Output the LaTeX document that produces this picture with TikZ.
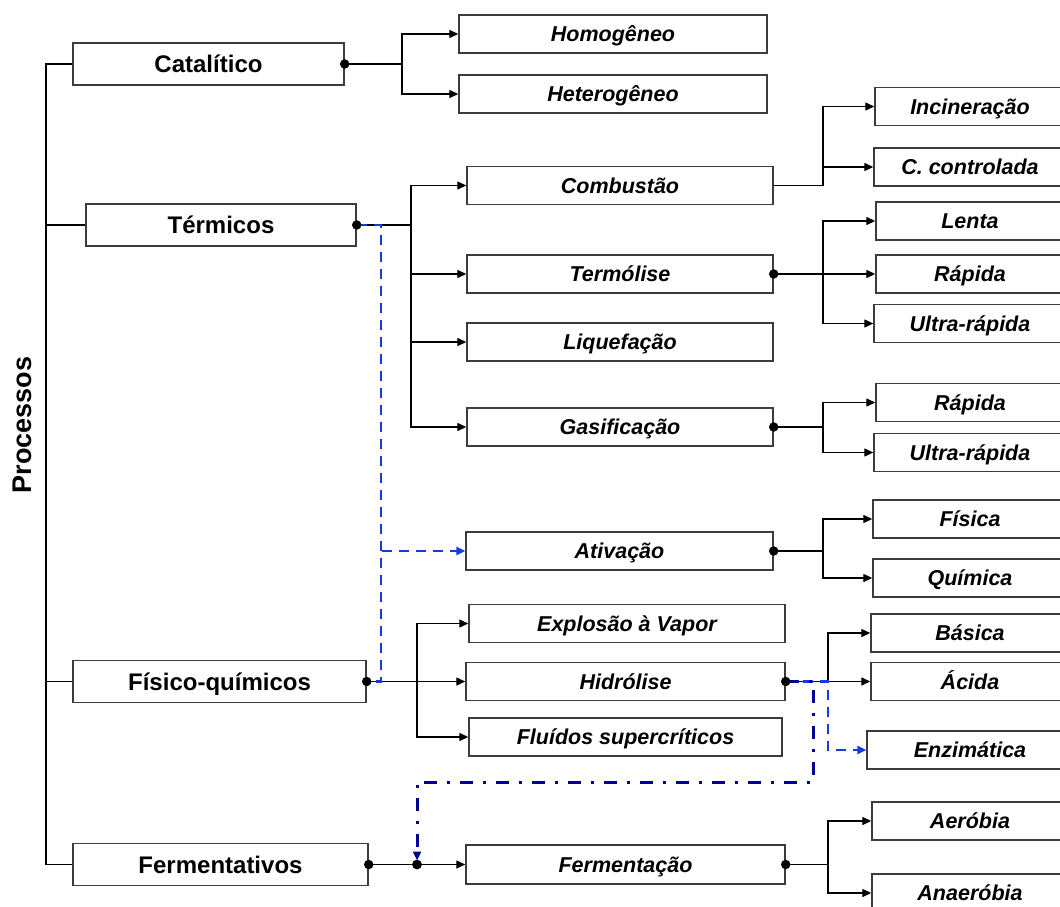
\documentclass[tikz,border=0pt]{standalone}
\usepackage{fontspec}
\setmainfont{Liberation Sans}
\usetikzlibrary{arrows.meta}
\definecolor{boxgray}{RGB}{60,60,60}
\definecolor{dashblue}{RGB}{20,60,215}
\definecolor{navyblue}{RGB}{0,0,150}
\begin{document}
\begin{tikzpicture}[x=1pt,y=-1pt,
  box/.style={draw=boxgray, line width=1.4pt, minimum height=38pt, inner sep=0pt,
    text height=15.4pt, text depth=0pt,
    font=\fontsize{21.5}{24}\selectfont\bfseries\itshape},
  catbox/.style={box, minimum height=42pt, text height=17.2pt, text depth=0pt, font=\fontsize{24}{28}\selectfont\bfseries},
  link/.style={draw=black, line width=1.3pt},
  tip/.style={-{Triangle[length=9pt,width=8pt]}},
  arr/.style={link, tip},
  dot/.style={circle, fill=black, inner sep=0pt, minimum size=9.5pt},
  bluedash/.style={draw=dashblue, line width=2.8pt, dash pattern=on 10pt off 7pt},
  navydash/.style={draw=navyblue, line width=3pt, dash pattern=on 13pt off 10pt on 3pt off 10pt}]
\useasboundingbox (0,0) rectangle (1060,907);
\clip (0,0) rectangle (1060,907);

% title
\node[font=\fontsize{27}{30}\selectfont\bfseries, rotate=90] (proc) at (22,425) {Processos};

% first level
\node[catbox, minimum width=271pt] (cat) at (208.5,64) {Catalítico};
\node[catbox, minimum width=270pt] (ter) at (221,225) {Térmicos};
\node[catbox, minimum width=293pt] (fq) at (219.5,681.5) {Físico-químicos};
\node[catbox, minimum width=295pt] (fer) at (220.5,864.5) {Fermentativos};

% second level
\node[box, minimum width=308pt] (hom) at (613,34) {Homogêneo};
\node[box, minimum width=308pt] (het) at (613,94) {Heterogêneo};
\node[box, minimum width=306pt] (comb) at (620,185.5) {Combustão};
\node[box, minimum width=306pt] (term) at (620,274) {Termólise};
\node[box, minimum width=306pt] (liq) at (620,342) {Liquefação};
\node[box, minimum width=306pt] (gas) at (620,427) {Gasificação};
\node[box, minimum width=307pt] (ativ) at (619.5,551) {Ativação};
\node[box, minimum width=316pt] (expl) at (627,623.5) {Explosão à Vapor};
\node[box, minimum width=319pt] (hid) at (625.5,681.5) {Hidrólise};
\node[box, minimum width=313pt] (flu) at (625.5,737) {Fluídos supercríticos};
\node[box, minimum width=319pt, minimum height=39pt] (ferm) at (625.5,864.5) {Fermentação};

% third level
\node[box, minimum width=190pt] (inc) at (970,106.5) {Incineração};
\node[box, minimum width=192pt] (cco) at (970,167) {C. controlada};
\node[box, minimum width=188pt] (len) at (970,221) {Lenta};
\node[box, minimum width=188pt] (rap1) at (970,274) {Rápida};
\node[box, minimum width=192pt] (ult1) at (970,323.5) {Ultra-rápida};
\node[box, minimum width=188pt] (rap2) at (970,402.5) {Rápida};
\node[box, minimum width=192pt] (ult2) at (970,452.5) {Ultra-rápida};
\node[box, minimum width=194pt] (fis) at (970,519) {Física};
\node[box, minimum width=194pt] (qui) at (970,578) {Química};
\node[box, minimum width=198pt] (bas) at (970,633) {Básica};
\node[box, minimum width=198pt] (aci) at (970,681.5) {Ácida};
\node[box, minimum width=206pt] (enz) at (970,750) {Enzimática};
\node[box, minimum width=196pt] (aer) at (970,821) {Aeróbia};
\node[box, minimum width=196pt] (ana) at (970,893) {Anaeróbia};

% left bus
\coordinate (busT) at (46,64);
\coordinate (busTer) at (46,225);
\coordinate (busFq) at (46,681.5);
\coordinate (busB) at (46,864.5);
\draw[link] (cat.west) -- (busT) -- (busB) -- (fer.west);
\draw[link] (busTer) -- (ter.west);
\draw[link] (busFq) -- (fq.west);

% junctions
\coordinate (catj) at (402,64);
\coordinate (terj) at (411,225);
\coordinate (combj) at (823,185.5);
\coordinate (termj) at (823,274);
\coordinate (gasj) at (823,427);
\coordinate (ativj) at (823,551);
\coordinate (fqj) at (417,681.5);
\coordinate (hidj) at (828,681.5);
\coordinate (fermj) at (828,864.5);

\draw[link] (cat.east) -- (catj);
\draw[arr] (catj) |- (hom.west);
\draw[arr] (catj) |- (het.west);

\draw[link] (ter.east) -- (terj);
\draw[arr] (terj) |- (comb.west);
\draw[arr] (terj) |- (term.west);
\draw[arr] (terj) |- (liq.west);
\draw[arr] (terj) |- (gas.west);

\draw[link] (comb.east) -- (combj);
\draw[arr] (combj) |- (inc.west);
\draw[arr] (combj) |- (cco.west);

\draw[link] (term.east) -- (termj);
\draw[arr] (termj) |- (len.west);
\draw[arr] (termj) -- (rap1.west);
\draw[arr] (termj) |- (ult1.west);

\draw[link] (gas.east) -- (gasj);
\draw[arr] (gasj) |- (rap2.west);
\draw[arr] (gasj) |- (ult2.west);

\draw[link] (ativ.east) -- (ativj);
\draw[arr] (ativj) |- (fis.west);
\draw[arr] (ativj) |- (qui.west);

\draw[link] (fq.east) -- (fqj);
\draw[arr] (fqj) |- (expl.west);
\draw[arr] (fqj) -- (hid.west);
\draw[arr] (fqj) |- (flu.west);

\draw[link] (hid.east) -- (hidj);
\draw[arr] (hidj) |- (bas.west);
\draw[arr] (hidj) -- (aci.west);

\node[dot] (ferjd) at (417,864.5) {};
\draw[link] (fer.east) -- (ferjd.center);
\draw[arr] (ferjd.center) -- (ferm.west);

\draw[link] (ferm.east) -- (fermj);
\draw[arr] (fermj) |- (aer.west);
\draw[arr] (fermj) |- (ana.west);

% blue dashed links
\coordinate (b1) at (381,225);
\coordinate (b2) at (381,681.5);
\coordinate (b3) at (382,551);
\draw[bluedash] (ter.east) -- (b1) -- (b2) -- (fq.east);
\draw[bluedash, tip] (b3) -- (ativ.west);

\coordinate (h1) at (828,681.5);
\coordinate (h2) at (828,750);
\draw[bluedash, tip] (hid.east) -- (h1) -- (h2) -- (enz.west);

\coordinate (n1) at (813,681.5);
\coordinate (n2) at (813,782);
\coordinate (n3) at (417,782);
\draw[navydash, tip, shorten >=4pt] (hid.east) -- (n1) -- (n2) -- (n3) -- (ferjd.center);

% dots
\node[dot] (d1) at (cat.east) {};
\node[dot] (d2) at (ter.east) {};
\node[dot] (d3) at (term.east) {};
\node[dot] (d4) at (gas.east) {};
\node[dot] (d5) at (ativ.east) {};
\node[dot] (d6) at (fq.east) {};
\node[dot] (d7) at (hid.east) {};
\node[dot] (d8) at (fer.east) {};
\node[dot] (d9) at (ferm.east) {};
\node[dot] (d10) at (417,864.5) {};
\end{tikzpicture}
\end{document}
